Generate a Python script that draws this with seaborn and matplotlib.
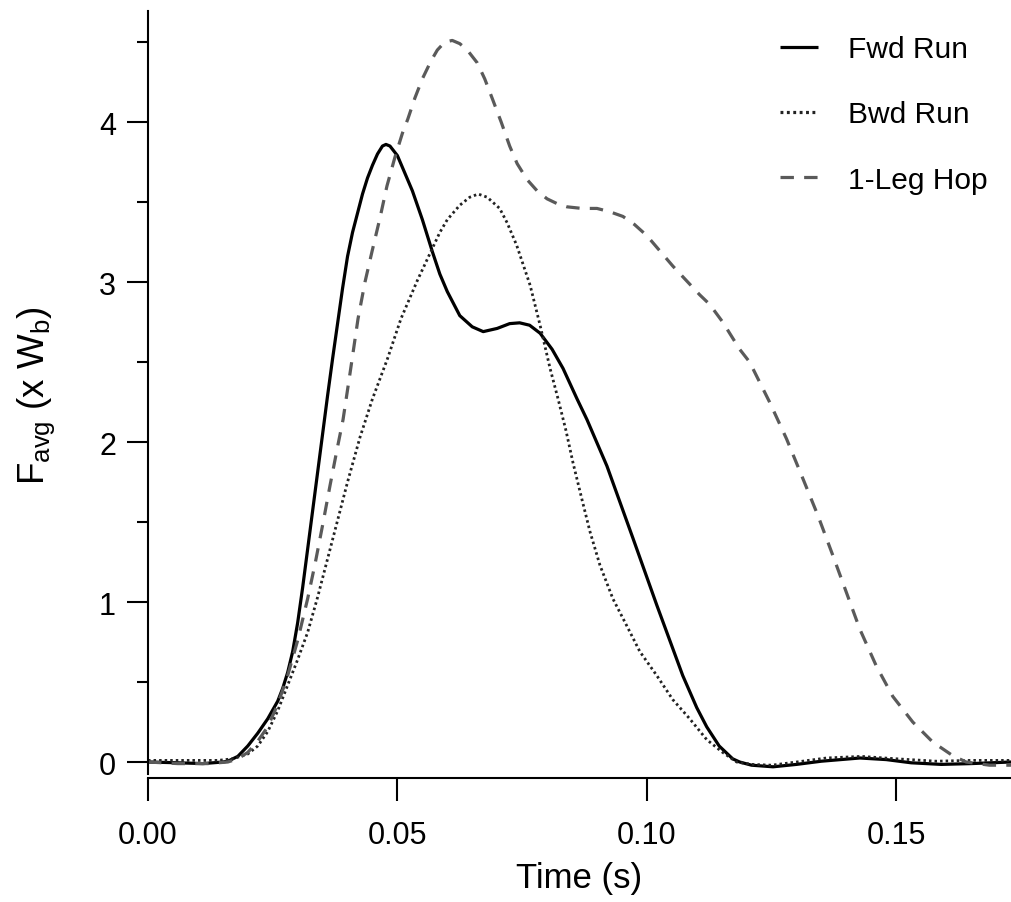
import numpy as np
import pandas as pd
import matplotlib
matplotlib.use("Agg")
import matplotlib.pyplot as plt
from matplotlib.ticker import MultipleLocator
import seaborn as sns

# ---- data ----
fwd_t = [0.000, 0.006, 0.011, 0.015, 0.016, 0.018, 0.020, 0.022, 0.024, 0.026,
         0.027, 0.028, 0.029, 0.030, 0.031, 0.032, 0.033, 0.034, 0.035, 0.036,
         0.037, 0.038, 0.039, 0.040, 0.041, 0.042, 0.043, 0.044, 0.045, 0.046,
         0.047, 0.0477, 0.0485, 0.050, 0.0515, 0.053, 0.055, 0.057, 0.0585, 0.060,
         0.0625, 0.065, 0.0672, 0.070, 0.0725, 0.0745, 0.0765, 0.0786, 0.081, 0.0832,
         0.086, 0.088, 0.092, 0.0972, 0.102, 0.1072, 0.110, 0.112, 0.1145, 0.1172,
         0.1186, 0.121, 0.1253, 0.130, 0.135, 0.1427, 0.148, 0.153, 0.159, 0.165,
         0.173]
fwd_f = [0.00, -0.005, -0.01, 0.00, 0.005, 0.035, 0.10, 0.18, 0.27, 0.38,
         0.46, 0.56, 0.69, 0.87, 1.09, 1.33, 1.57, 1.81, 2.05, 2.29,
         2.52, 2.74, 2.96, 3.16, 3.31, 3.43, 3.55, 3.65, 3.73, 3.80,
         3.85, 3.86, 3.85, 3.79, 3.68, 3.57, 3.39, 3.19, 3.05, 2.94,
         2.79, 2.72, 2.69, 2.71, 2.74, 2.745, 2.73, 2.68, 2.58, 2.46,
         2.27, 2.14, 1.85, 1.40, 0.98, 0.54, 0.34, 0.22, 0.10, 0.02,
         0.00, -0.02, -0.03, -0.015, 0.005, 0.025, 0.015, -0.005, -0.015, -0.01,
         0.00]

bwd_t = [0.000, 0.008, 0.014, 0.017, 0.020, 0.022, 0.024, 0.026, 0.028, 0.030,
         0.032, 0.034, 0.036, 0.038, 0.040, 0.0425, 0.045, 0.048, 0.0507, 0.054,
         0.0567, 0.0585, 0.060, 0.0625, 0.0645, 0.0662, 0.068, 0.0705, 0.072, 0.0739,
         0.0766, 0.0786, 0.0806, 0.0822, 0.0838, 0.0852, 0.087, 0.0886, 0.0906, 0.0932,
         0.096, 0.0986, 0.102, 0.1052, 0.1086, 0.112, 0.1152, 0.118, 0.121, 0.125,
         0.130, 0.136, 0.143, 0.150, 0.158, 0.165, 0.173]
bwd_f = [0.01, 0.01, 0.01, 0.02, 0.05, 0.10, 0.19, 0.32, 0.48, 0.64,
         0.81, 1.03, 1.27, 1.51, 1.75, 2.03, 2.27, 2.52, 2.77, 3.01,
         3.19, 3.31, 3.39, 3.48, 3.53, 3.55, 3.53, 3.46, 3.37, 3.23,
         2.98, 2.73, 2.46, 2.27, 2.07, 1.87, 1.64, 1.44, 1.23, 1.02,
         0.85, 0.69, 0.54, 0.39, 0.27, 0.14, 0.06, 0.00, -0.015, -0.02,
         0.00, 0.025, 0.035, 0.02, 0.005, 0.01, 0.01]

hop_t = [0.000, 0.006, 0.012, 0.016, 0.018, 0.020, 0.022, 0.024, 0.026, 0.028,
         0.030, 0.032, 0.0335, 0.035, 0.0365, 0.038, 0.0391, 0.0405, 0.0421, 0.0435,
         0.0449, 0.0465, 0.0479, 0.0495, 0.051, 0.0521, 0.0535, 0.055, 0.0567, 0.058,
         0.0595, 0.061, 0.0625, 0.064, 0.066, 0.0675, 0.0691, 0.0708, 0.0725, 0.074,
         0.076, 0.078, 0.080, 0.082, 0.084, 0.087, 0.090, 0.0925, 0.0952, 0.0975,
         0.100, 0.1052, 0.1106, 0.1126, 0.1152, 0.1186, 0.1206, 0.1246, 0.128, 0.1313,
         0.1343, 0.1373, 0.140, 0.1427, 0.146, 0.1493, 0.1533, 0.1573, 0.1613, 0.164,
         0.1687, 0.173]
hop_f = [0.00, -0.01, -0.01, 0.00, 0.02, 0.06, 0.13, 0.22, 0.36, 0.54,
         0.76, 1.02, 1.24, 1.48, 1.73, 1.97, 2.14, 2.43, 2.77, 3.00,
         3.19, 3.40, 3.60, 3.78, 3.93, 4.02, 4.15, 4.27, 4.38, 4.45,
         4.50, 4.51, 4.49, 4.45, 4.37, 4.27, 4.14, 4.00, 3.85, 3.74,
         3.64, 3.57, 3.52, 3.49, 3.47, 3.46, 3.46, 3.44, 3.41, 3.36,
         3.29, 3.10, 2.92, 2.86, 2.75, 2.58, 2.50, 2.25, 2.02, 1.77,
         1.54, 1.29, 1.06, 0.83, 0.60, 0.41, 0.25, 0.125, 0.04, 0.00,
         -0.02, -0.02]

labels = ["Fwd Run", "Bwd Run", "1-Leg Hop"]
x_ticks = [0.00, 0.05, 0.10, 0.15]
x_tick_labels = ["0.00", "0.05", "0.10", "0.15"]
y_ticks = [0, 1, 2, 3, 4]

# ---- style ----
sns.set_theme(style="ticks")
plt.rcParams["font.family"] = ["Liberation Sans", "DejaVu Sans"]
plt.rcParams["mathtext.fontset"] = "custom"
plt.rcParams["mathtext.rm"] = "Liberation Sans"
plt.rcParams["mathtext.it"] = "Liberation Sans"
plt.rcParams["text.color"] = "black"
plt.rcParams["axes.labelcolor"] = "black"

fig = plt.figure(figsize=(10.11, 9.03), dpi=100)
ax = fig.add_axes([148 / 1011, (903 - 779) / 903, (1011 - 148) / 1011, (779 - 12) / 903])

sns.lineplot(x=fwd_t, y=fwd_f, ax=ax, color="black", lw=2.3, label=labels[0])
sns.lineplot(x=bwd_t, y=bwd_f, ax=ax, color="#222222", lw=2.0, label=labels[1])
sns.lineplot(x=hop_t, y=hop_f, ax=ax, color="#5a5a5a", lw=2.3, label=labels[2])
lines = ax.get_lines()
lines[1].set_dashes((0.9, 1.1))
lines[2].set_dashes((4.2, 3.2))
for ln in lines:
    ln.set_solid_capstyle("butt")

ax.set_xlim(0, 0.173)
ax.set_ylim(-0.1, 4.694)
ax.set_xticks(x_ticks)
ax.set_xticklabels(x_tick_labels)
ax.set_yticks(y_ticks)
ax.yaxis.set_minor_locator(MultipleLocator(0.5))

for s in ["top", "right"]:
    ax.spines[s].set_visible(False)
for s in ["left", "bottom"]:
    ax.spines[s].set_linewidth(1.5)
    ax.spines[s].set_color("black")
ax.spines["left"].set_bounds(-0.075, 4.694)

ax.tick_params(axis="x", which="major", length=16.5, width=1.5, pad=14,
               labelsize=22, colors="black", direction="out")
ax.tick_params(axis="y", which="major", length=15, width=1.5, pad=8,
               labelsize=22, colors="black", direction="out")
ax.tick_params(axis="y", which="minor", length=8, width=1.5, colors="black", direction="out")

ax.set_xlabel("Time (s)", fontsize=25, color="black", labelpad=8)
ax.set_ylabel(r"F$_{\mathregular{avg}}$ (x W$_{\mathregular{b}}$)", fontsize=26.5,
              color="black", labelpad=30)

leg = ax.legend(loc="upper left", bbox_to_anchor=(780 / 1011, 1 - 36 / 903),
                bbox_transform=fig.transFigure, frameon=False, borderpad=0,
                borderaxespad=0, fontsize=21.5, handlelength=1.27, handletextpad=1.0,
                labelspacing=1.25)
for h in leg.get_lines():
    h.set_linewidth(2.3)

fig.savefig("out.png", dpi=100, facecolor="white")
